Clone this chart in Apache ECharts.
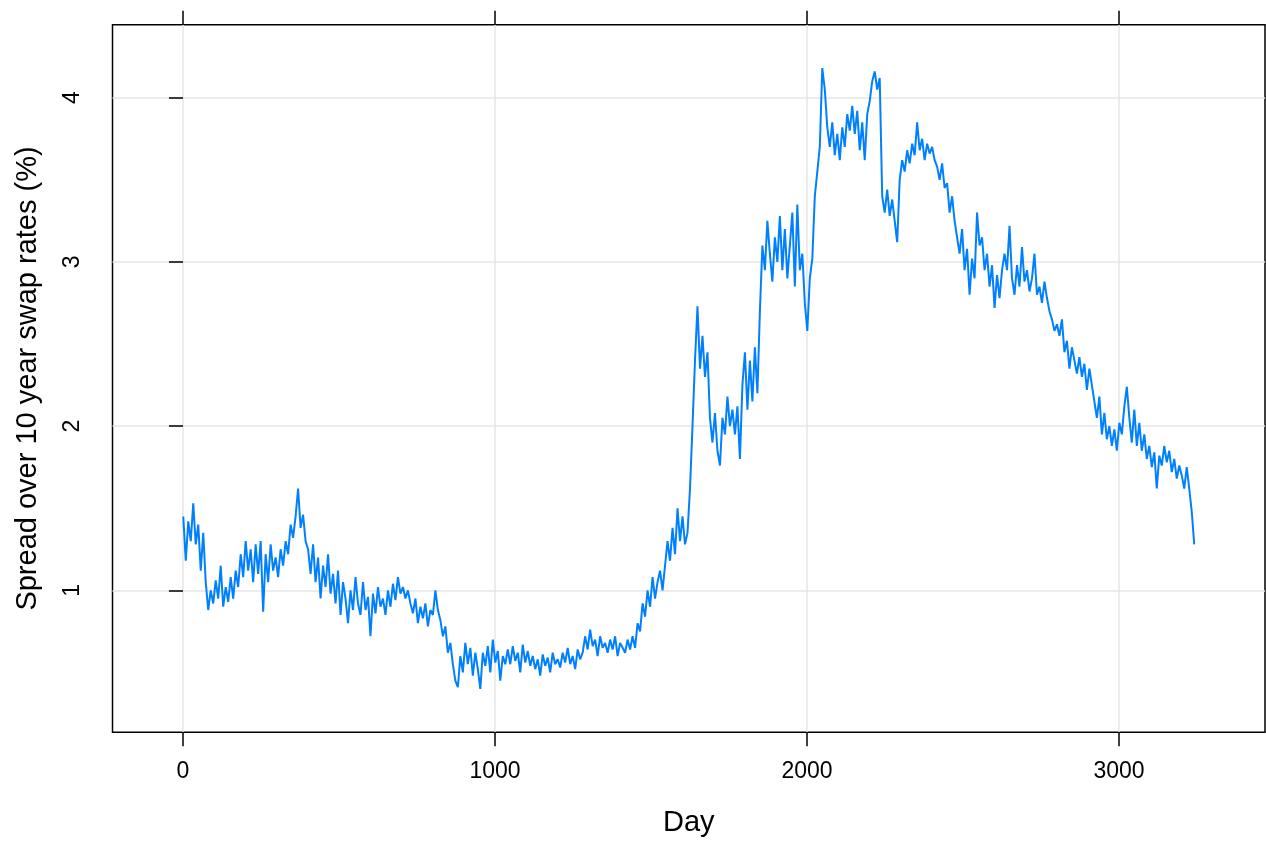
<!DOCTYPE html>
<html>
<head>
<meta charset="utf-8">
<script src="https://cdn.jsdelivr.net/npm/echarts@6/dist/echarts.min.js"></script>
<style>
html,body{margin:0;padding:0;background:#fff;}
#chart{width:1266px;height:844px;}
</style>
</head>
<body>
<div id="chart"></div>
<script>
// Spread readings sampled every 8 days starting at day 1
const firstDay = 1;
const dayStep = 8;
const spread = [
  1.45, 1.18, 1.42, 1.30, 1.53, 1.28, 1.40, 1.12, 1.35, 1.05,
  0.88, 1.00, 0.92, 1.06, 0.95, 1.15, 0.90, 1.02, 0.93, 1.08,
  0.95, 1.12, 1.02, 1.22, 1.08, 1.30, 1.12, 1.25, 1.05, 1.28,
  1.10, 1.30, 0.87, 1.22, 1.05, 1.28, 1.12, 1.20, 1.08, 1.25,
  1.15, 1.30, 1.22, 1.40, 1.32, 1.45, 1.62, 1.38, 1.46, 1.30,
  1.25, 1.10, 1.28, 1.05, 1.20, 0.95, 1.15, 1.02, 1.22, 0.98,
  1.10, 0.92, 1.12, 0.85, 1.05, 0.95, 0.80, 1.00, 0.88, 1.08,
  0.92, 0.85, 1.05, 0.88, 0.96, 0.72, 0.98, 0.86, 1.02, 0.90,
  0.95, 0.85, 1.00, 0.90, 1.04, 0.94, 1.08, 0.98, 1.02, 0.95,
  1.00, 0.92, 0.86, 0.95, 0.80, 0.90, 0.83, 0.92, 0.78, 0.88,
  0.85, 1.00, 0.88, 0.82, 0.72, 0.78, 0.62, 0.68, 0.55, 0.45,
  0.41, 0.60, 0.50, 0.68, 0.55, 0.65, 0.48, 0.62, 0.52, 0.40,
  0.62, 0.54, 0.66, 0.50, 0.70, 0.56, 0.63, 0.45, 0.60, 0.55,
  0.64, 0.55, 0.66, 0.57, 0.62, 0.50, 0.67, 0.56, 0.63, 0.54,
  0.60, 0.52, 0.58, 0.48, 0.61, 0.54, 0.59, 0.50, 0.62, 0.55,
  0.58, 0.53, 0.62, 0.56, 0.65, 0.55, 0.60, 0.52, 0.64, 0.58,
  0.62, 0.72, 0.64, 0.76, 0.66, 0.70, 0.60, 0.72, 0.65, 0.68,
  0.62, 0.70, 0.64, 0.72, 0.60, 0.68, 0.65, 0.62, 0.70, 0.64,
  0.72, 0.65, 0.80, 0.75, 0.92, 0.84, 1.00, 0.90, 1.08, 0.95,
  1.05, 1.12, 1.00, 1.15, 1.30, 1.18, 1.38, 1.22, 1.50, 1.30,
  1.45, 1.28, 1.35, 1.62, 2.00, 2.40, 2.73, 2.35, 2.55, 2.30,
  2.45, 2.05, 1.90, 2.08, 1.85, 1.76, 2.05, 1.95, 2.18, 2.00,
  2.10, 1.95, 2.12, 1.80, 2.25, 2.45, 2.10, 2.40, 2.15, 2.48,
  2.20, 2.70, 3.10, 2.95, 3.25, 3.05, 2.88, 3.15, 3.00, 3.28,
  2.95, 3.20, 2.90, 3.10, 3.30, 2.85, 3.35, 2.95, 3.05, 2.75,
  2.58, 2.90, 3.02, 3.40, 3.55, 3.70, 4.18, 4.05, 3.82, 3.70,
  3.85, 3.65, 3.78, 3.62, 3.82, 3.70, 3.90, 3.80, 3.95, 3.78,
  3.92, 3.68, 3.85, 3.62, 3.90, 3.98, 4.10, 4.16, 4.05, 4.12,
  3.40, 3.30, 3.44, 3.28, 3.38, 3.25, 3.12, 3.50, 3.62, 3.55,
  3.68, 3.60, 3.72, 3.65, 3.85, 3.68, 3.75, 3.62, 3.72, 3.66,
  3.70, 3.62, 3.58, 3.50, 3.60, 3.45, 3.48, 3.30, 3.40, 3.25,
  3.15, 3.05, 3.20, 2.95, 3.08, 2.80, 3.02, 2.90, 3.30, 3.10,
  3.15, 2.95, 3.05, 2.85, 2.98, 2.72, 2.92, 2.78, 2.95, 3.05,
  2.95, 3.22, 2.90, 2.80, 2.98, 2.85, 3.09, 2.88, 2.95, 2.82,
  2.90, 3.05, 2.80, 2.85, 2.75, 2.88, 2.78, 2.70, 2.65, 2.58,
  2.62, 2.55, 2.65, 2.45, 2.52, 2.35, 2.48, 2.40, 2.32, 2.42,
  2.30, 2.38, 2.22, 2.35, 2.25, 2.15, 2.05, 2.18, 1.95, 2.08,
  1.92, 2.00, 1.88, 1.98, 1.85, 2.02, 1.95, 2.12, 2.24, 2.05,
  1.90, 2.10, 1.88, 2.02, 1.85, 1.95, 1.80, 1.88, 1.75, 1.84,
  1.62, 1.82, 1.76, 1.88, 1.78, 1.85, 1.72, 1.80, 1.68, 1.76,
  1.70, 1.62, 1.75, 1.62, 1.48, 1.28
];
const xTicks = [0, 1000, 2000, 3000];
const yTicks = [1, 2, 3, 4];
const xTitle = 'Day';
const yTitle = 'Spread over 10 year swap rates (%)';

const points = spread.map((v, i) => [firstDay + i * dayStep, v]);
const xs = points.map(p => p[0]);
const pad = 0.07;
const xMinD = Math.min(...xs), xMaxD = Math.max(...xs);
const yMinD = Math.min(...spread), yMaxD = Math.max(...spread);
const xMin = xMinD - pad * (xMaxD - xMinD), xMax = xMaxD + pad * (xMaxD - xMinD);
const yMin = yMinD - pad * (yMaxD - yMinD), yMax = yMaxD + pad * (yMaxD - yMinD);

const FONT = '"Liberation Sans", Arial, Helvetica, sans-serif';
const chart = echarts.init(document.getElementById('chart'), null, {renderer: 'canvas'});
chart.setOption({
  animation: false,
  backgroundColor: '#ffffff',
  grid: {left: 112.5, top: 24.7, right: 1, bottom: 111.7, show: true, borderColor: '#000', borderWidth: 1.5, backgroundColor: 'transparent'},
  xAxis: [{
    type: 'value', position: 'bottom', min: xMin, max: xMax,
    axisLine: {show: false},
    axisTick: {show: true, customValues: xTicks, length: 14, inside: false, lineStyle: {color: '#000', width: 1.5}},
    axisLabel: {show: true, customValues: xTicks, margin: 28, fontSize: 23, color: '#000', fontFamily: FONT,
                formatter: v => String(v)},
    splitLine: {show: true, lineStyle: {color: '#e6e6e6', width: 1.5}},
    name: xTitle, nameLocation: 'middle', nameGap: 76,
    nameTextStyle: {fontSize: 29, color: '#000', fontFamily: FONT}
  }, {
    type: 'value', position: 'top', min: xMin, max: xMax,
    axisLine: {show: false},
    axisTick: {show: true, customValues: xTicks, length: 14, inside: false, lineStyle: {color: '#000', width: 1.5}},
    axisLabel: {show: false},
    splitLine: {show: false}
  }],
  yAxis: [{
    type: 'value', position: 'left', min: yMin, max: yMax,
    axisLine: {show: false},
    axisTick: {show: true, customValues: yTicks, length: 14, inside: false, lineStyle: {color: '#000', width: 1.5}},
    axisLabel: {show: true, customValues: yTicks, rotate: 90, margin: 28, fontSize: 23, color: '#000', fontFamily: FONT,
                formatter: v => String(v)},
    splitLine: {show: true, lineStyle: {color: '#e6e6e6', width: 1.5}},
    name: yTitle, nameLocation: 'middle', nameGap: 70, nameRotate: 90,
    nameTextStyle: {fontSize: 29, color: '#000', fontFamily: FONT}
  }],
  series: [{
    type: 'line', data: points, xAxisIndex: 0, yAxisIndex: 0,
    showSymbol: false, symbol: 'none',
    lineStyle: {color: '#0080ff', width: 2},
    clip: true
  }]
});
</script>
</body>
</html>
